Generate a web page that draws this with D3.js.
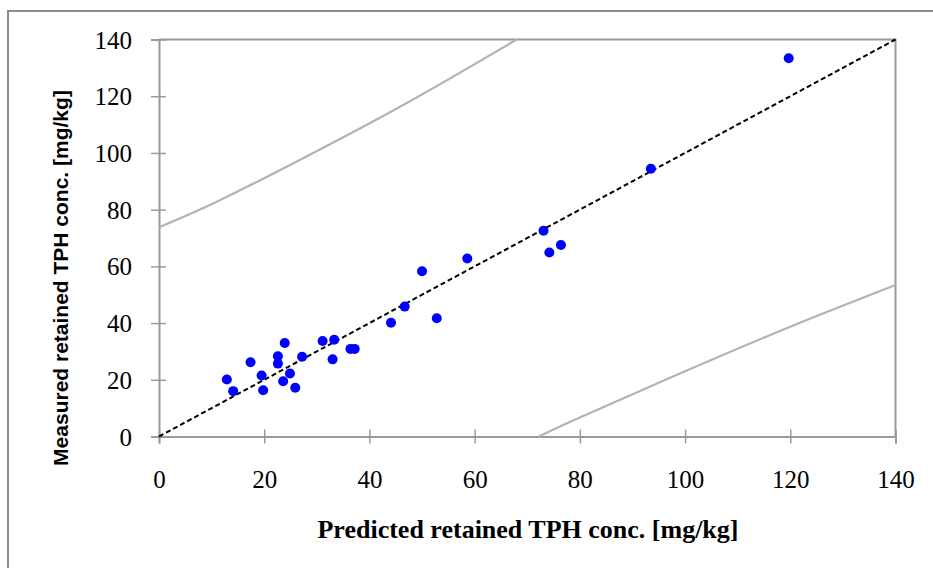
<!DOCTYPE html>
<html>
<head>
<meta charset="utf-8">
<script src="https://cdn.jsdelivr.net/npm/d3@7"></script>
<style>
  html, body { margin: 0; padding: 0; background: #fff; }
  svg { display: block; }
</style>
</head>
<body>
<div id="chart"></div>
<script>
// ── Data ─────────────────────────────────────────────────────────────────────
const predicted = [12.9, 14.1, 17.4, 19.5, 19.8, 22.6, 22.6, 23.9, 23.6, 24.9,
                   25.9, 27.2, 31.1, 33.3, 33.0, 36.4, 37.2, 44.1, 46.7, 50.0,
                   52.8, 58.6, 73.1, 74.2, 76.4, 93.5, 119.7];
const measured  = [20.1, 16.0, 26.2, 21.5, 16.3, 28.3, 25.7, 33.0, 19.5, 22.2,
                   17.2, 28.1, 33.7, 34.1, 27.2, 30.9, 30.9, 40.1, 45.8, 58.3,
                   41.7, 62.8, 72.6, 64.9, 67.5, 94.4, 133.4];

// upper / lower limit curves (grey)
const upperX = [0, 11.0, 26.2, 46.5, 68.0];
const upperY = [73.8, 82.8, 97.0, 117.0, 140];
const lowerX = [72.2, 80.0, 100.0, 120.0, 140];
const lowerY = [0, 6.7, 23.0, 38.7, 53.4];

const ticks = [0, 20, 40, 60, 80, 100, 120, 140];

// ── Layout ──────────────────────────────────────────────────────────────────
const W = 933, H = 568;
const plot = { left: 159, right: 895.5, top: 39.5, bottom: 436.5 };

const svg = d3.select("#chart").append("svg")
  .attr("width", W).attr("height", H);

// outer chart frame
svg.append("rect")
  .attr("x", 8).attr("y", 11)
  .attr("width", 960).attr("height", 620)
  .attr("fill", "none")
  .attr("stroke", "#8c8c8c")
  .attr("stroke-width", 2);

const x = d3.scaleLinear().domain([0, 140]).range([plot.left, plot.right]);
const y = d3.scaleLinear().domain([0, 140]).range([plot.bottom, plot.top]);

const AXIS = "#9a9a9a";
const TICKFONT = "'Liberation Serif', 'Times New Roman', serif";

// plot border (top and right)
svg.append("path")
  .attr("d", `M${plot.left},${plot.top}H${plot.right}V${plot.bottom}`)
  .attr("fill", "none").attr("stroke", AXIS).attr("stroke-width", 2);

// axes with crossing ticks
const xAxis = svg.append("g")
  .attr("transform", `translate(0,${plot.bottom})`)
  .call(d3.axisBottom(x).tickValues(ticks).tickSize(7).tickPadding(27));
xAxis.selectAll(".tick line").attr("y1", -7);

const yAxis = svg.append("g")
  .attr("transform", `translate(${plot.left},0)`)
  .call(d3.axisLeft(y).tickValues(ticks).tickSize(8).tickPadding(19));
yAxis.selectAll(".tick line").attr("x1", 7);

[xAxis, yAxis].forEach(function (a) {
  a.select(".domain").attr("stroke", AXIS).attr("stroke-width", 2);
  a.selectAll(".tick line").attr("stroke", AXIS).attr("stroke-width", 1.5);
  a.selectAll(".tick text")
    .attr("fill", "#000")
    .attr("font-size", 25)
    .attr("font-family", TICKFONT);
});
yAxis.selectAll(".tick text").attr("dy", "0.34em");

// grey limit curves
const curveLine = d3.line()
  .x(d => x(d[0])).y(d => y(d[1]))
  .curve(d3.curveNatural);

svg.append("path")
  .datum(d3.zip(upperX, upperY))
  .attr("d", curveLine)
  .attr("fill", "none").attr("stroke", "#b3b3b3").attr("stroke-width", 2.2);

svg.append("path")
  .datum(d3.zip(lowerX, lowerY))
  .attr("d", curveLine)
  .attr("fill", "none").attr("stroke", "#b3b3b3").attr("stroke-width", 2.2);

// 1:1 line
svg.append("line")
  .attr("x1", x(0)).attr("y1", y(0))
  .attr("x2", x(140)).attr("y2", y(140))
  .attr("stroke", "#000")
  .attr("stroke-width", 2)
  .attr("stroke-dasharray", "5,3");

// points
svg.append("g").selectAll("circle")
  .data(d3.zip(predicted, measured))
  .join("circle")
  .attr("cx", d => x(d[0]))
  .attr("cy", d => y(d[1]))
  .attr("r", 5)
  .attr("fill", "#0000ff");

// axis titles
svg.append("text")
  .attr("x", 528).attr("y", 538)
  .attr("text-anchor", "middle")
  .attr("font-family", TICKFONT)
  .attr("font-weight", "bold")
  .attr("font-size", 26)
  .text("Predicted retained TPH conc. [mg/kg]");

svg.append("text")
  .attr("transform", `translate(68,278) rotate(-90)`)
  .attr("text-anchor", "middle")
  .attr("font-family", "'Liberation Sans', Arial, sans-serif")
  .attr("font-weight", "bold")
  .attr("font-size", 21)
  .text("Measured retained TPH conc. [mg/kg]");
</script>
</body>
</html>
